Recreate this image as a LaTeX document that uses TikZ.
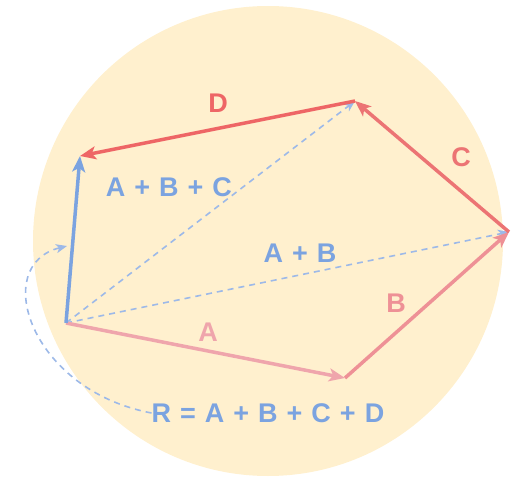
\documentclass[tikz,border=0pt]{standalone}
\usepackage{fontspec}
\setmainfont{Liberation Sans}[WordSpace=1.2]
\usetikzlibrary{arrows.meta}
\definecolor{circfill}{HTML}{FFF0CE}
\definecolor{colA}{HTML}{EFA5AC}
\definecolor{colB}{HTML}{EE9196}
\definecolor{colC}{HTML}{EC7474}
\definecolor{colD}{HTML}{EE6666}
\definecolor{colR}{HTML}{7BA3E0}
\definecolor{colS}{HTML}{9DB9E8}

\begin{document}
\begin{tikzpicture}[x=1pt, y=-1pt,
  every node/.style={font=\bfseries\fontsize{27}{27}\selectfont, inner sep=0pt},
  vec/.style={line width=3.5pt, -{Stealth[length=16pt, width=13pt, inset=4pt]}},
  partial/.style={line width=1.6pt, dash pattern=on 6pt off 5pt, -{Stealth[length=11pt, width=9pt, inset=3pt]}}]
				\useasboundingbox (0,0) rectangle (531,487);
				\fill[circfill] (268,241) circle (235);
				
				% Points
				\coordinate (o) at (66,323);
				\coordinate (pa) at (345,378);
				\coordinate (pb) at (509,232);
				\coordinate (pc) at (355,101);
				\coordinate (pd) at (80,156);
				\coordinate (hit) at (67,246);
				
				% Labels
				\node (labA) [text=colA] at (208,332) {A};
				\node (labB) [text=colB] at (396,303) {B};
				\node (labC) [text=colC] at (461,157) {C};
				\node (labD) [text=colD] at (218,103) {D};
				\node (labAB) [text=colR] at (300,253) {A + B};
				\node (labABC) [text=colR] at (169,187) {A + B + C};
				\node (labR) [text=colR] at (268,413) {R = A + B + C + D};
				
				% Partial sums
				\draw[partial, colS] (o) -- (pb);
				\draw[partial, colS] (o) -- (pc);
				\draw[partial, colS] (labR.west) .. controls (30,390) and (-10,265) .. (hit);
				
				% Vectors
				\draw[vec, colA] (o) -- (pa);
				\draw[vec, colB] (pa) -- (pb);
				\draw[vec, colC] (pb) -- (pc);
				\draw[vec, colD] (pc) -- (pd);
				\draw[vec, colR] (o) -- (pd);
			\end{tikzpicture}
\end{document}
